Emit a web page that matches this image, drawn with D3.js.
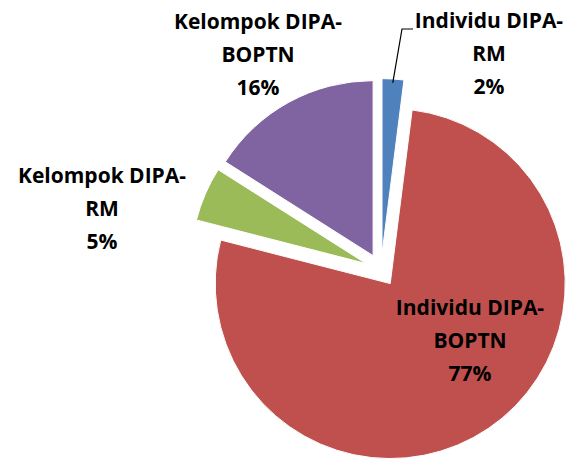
<!DOCTYPE html>
<html>
<head>
<meta charset="utf-8">
<script src="https://cdnjs.cloudflare.com/ajax/libs/d3/7.8.5/d3.min.js"></script>
<style>
  html, body { margin: 0; padding: 0; background: #fff; }
  svg { display: block; }
</style>
</head>
<body>
<div id="chart"></div>
<script>
// chart values
var categories = ["Individu DIPA-RM", "Individu DIPA-BOPTN", "Kelompok DIPA-RM", "Kelompok DIPA-BOPTN"];
var values = [2, 77, 5, 16];
var colors = ["#4F81BD", "#C0504D", "#9BBB59", "#8064A2"];

// where each label block sits, relative to pie centre (x = centre of text, y = first baseline)
var labelOffsets = [[108, -242], [89, 45], [-279, -87], [-123, -241]];

var width = 576, height = 459;
var cx = 381, cy = 270;          // pie centre
var radius = 175;
var explode = 16.4;               // distance each slice is pulled out
var lineGap = 33;

var svg = d3.select("#chart").append("svg")
  .attr("width", width)
  .attr("height", height);

var pie = d3.pie().sort(null).value(function(d){ return d; });
var arcs = pie(values);
var total = d3.sum(values);

var arc = d3.arc().innerRadius(0).outerRadius(radius);

var g = svg.append("g").attr("transform", "translate(" + cx + "," + cy + ")");

g.selectAll("path.slice")
  .data(arcs)
  .enter()
  .append("path")
  .attr("class", "slice")
  .attr("d", arc)
  .attr("fill", function(d, i){ return colors[i]; })
  .attr("stroke", "#fff")
  .attr("stroke-width", 1)
  .attr("transform", function(d){
    var mid = (d.startAngle + d.endAngle) / 2;
    return "translate(" + (Math.sin(mid) * explode) + "," + (-Math.cos(mid) * explode) + ")";
  });

// leader line for the small blue slice
var blue = arcs[0];
var bMid = (blue.startAngle + blue.endAngle) / 2;
var bx = Math.sin(bMid) * (radius + explode - 4), by = -Math.cos(bMid) * (radius + explode - 4);
g.append("polyline")
  .attr("points", [[bx, by], [21, -241], [32, -241]].map(function(p){ return p.join(","); }).join(" "))
  .attr("fill", "none")
  .attr("stroke", "#000")
  .attr("stroke-width", 1.2);

// labels
var labels = g.selectAll("text.lbl")
  .data(arcs)
  .enter()
  .append("text")
  .attr("class", "lbl")
  .attr("text-anchor", "middle")
  .attr("font-family", "'Open Sans', 'DejaVu Sans', sans-serif")
  .attr("font-weight", "bold")
  .attr("font-size", "21px")
  .attr("fill", "#000");

labels.each(function(d, i){
  var name = categories[i];
  var cut = name.indexOf("-") + 1;
  var lines = [name.slice(0, cut), name.slice(cut), Math.round(d.value / total * 100) + "%"];
  var t = d3.select(this);
  lines.forEach(function(s, k){
    t.append("tspan")
      .attr("x", labelOffsets[i][0])
      .attr("y", labelOffsets[i][1] + k * lineGap)
      .text(s);
  });
});
</script>
</body>
</html>
